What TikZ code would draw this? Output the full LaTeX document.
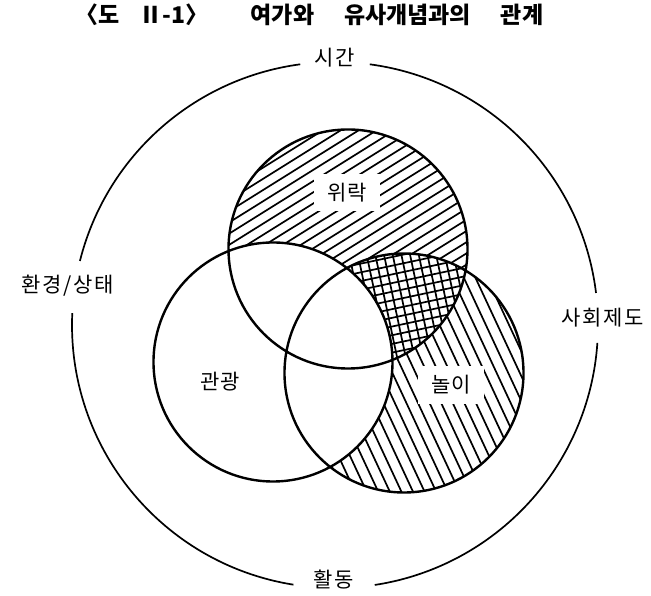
\documentclass[tikz,border=0pt]{standalone}
\usepackage{fontspec}
\setmainfont{Noto Sans CJK KR}
\newfontfamily\spacedfont[LetterSpace=8]{Noto Sans CJK KR}
\begin{document}
\begin{tikzpicture}[x=1pt, y=1pt, font=\fontsize{21}{24}\selectfont,
  ring/.style={line width=2.4pt},
  outer/.style={line width=1.7pt},
  hatch/.style={line width=1.7pt},
  lbl/.style={fill=white, inner xsep=14pt, inner ysep=9pt},
  side/.style={font=\fontsize{21}{24}\spacedfont},
  ttl/.style={font=\fontsize{23}{26}\selectfont\bfseries}]
\useasboundingbox (0,0) rectangle (651,596);

\coordinate (O) at (335,271);
\coordinate (W) at (348,347); % 위락
\coordinate (G) at (273,234); % 관광
\coordinate (N) at (404,223); % 놀이
\def\r{119.5}
\def\R{263}

% 위락
\begin{scope}
  \clip (W) circle (\r);
  \begin{scope}[shift={(W)}, rotate=32]
    \foreach \i in {-13,...,13} \draw[hatch] (-130,\i*9.5) -- (130,\i*9.5);
  \end{scope}
\end{scope}

% 놀이
\fill[white] (N) circle (\r);
\begin{scope}
  \clip (N) circle (\r);
  \begin{scope}[shift={(N)}, rotate=-65]
    \foreach \i in {-12,...,12} \draw[hatch] (-130,\i*10.5) -- (130,\i*10.5);
  \end{scope}
\end{scope}

% 위락 and 놀이
\begin{scope}
  \clip (W) circle (\r);
  \clip (N) circle (\r);
  \fill[white] (W) circle (\r);
  \begin{scope}[shift={(W)}, rotate=12]
    \foreach \i in {-20,...,20} {
      \draw[hatch] (-200,\i*8.5) -- (200,\i*8.5);
      \draw[hatch] (\i*8.5,-200) -- (\i*8.5,200);
    }
  \end{scope}
\end{scope}

\fill[white] (G) circle (\r);
\draw[ring] (W) circle (\r) (G) circle (\r) (N) circle (\r);

\foreach \a/\b in {7/82.4, 97.6/165.9, 177.4/260.9, 278.7/356.1}
  \draw[outer] (O) ++(\a:\R) arc[start angle=\a, end angle=\b, radius=\R];

\node[lbl] (wirak) at (347,403) {위락};
\node (gwangwang) at (220,214) {관광};
\node[lbl] (nori) at (451,211) {놀이};

\node[side] (sigan) at (335,538) {시간};
\node[side] (hwangyeong) at (68,310) {환경/상태};
\node[side] (sahoe) at (603,278) {사회제도};
\node[side] (hwaldong) at (334,16) {활동};

\node[ttl] (tnum) at (142,581) {〈도\hspace{0.9em}Ⅱ-1〉};
\node[ttl] (title) at (397,581) {여가와\hspace{1.3em}유사개념과의\hspace{1.3em}관계};
\end{tikzpicture}
\end{document}
